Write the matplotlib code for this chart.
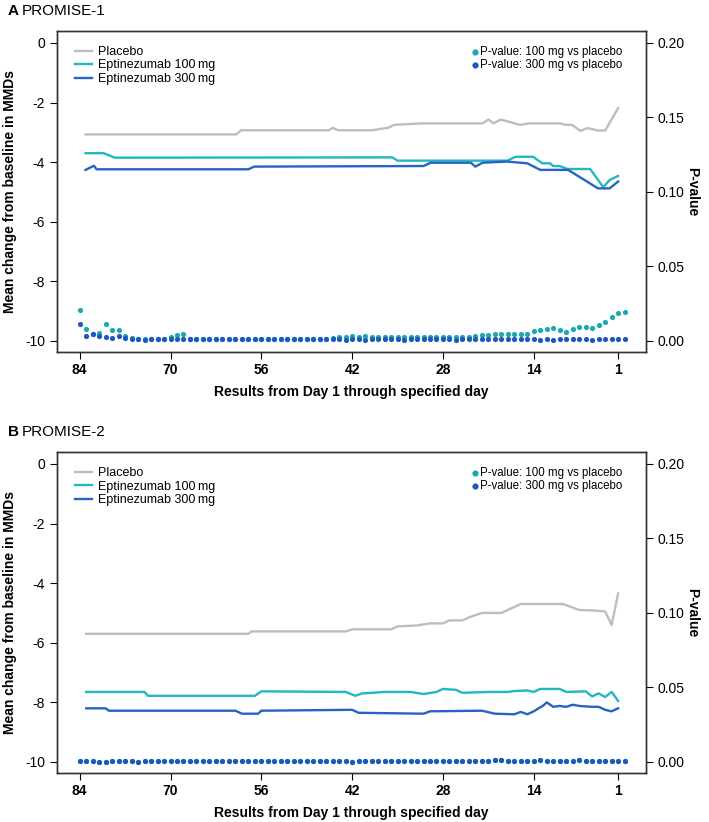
import numpy as np
import matplotlib.pyplot as plt

plt.rcParams['font.family'] = ['Liberation Sans', 'DejaVu Sans']
plt.rcParams['axes.unicode_minus'] = False

# x ticks (days, reversed axis)
day_ticks = [84, 70, 56, 42, 28, 14, 1]
dot_days = list(range(84, -1, -1))  # one dot per day

# ---- PROMISE-1 : mean change lines (breakpoints)
a_placebo_days = [83.1, 59.9, 59.1, 45.6, 45.0, 44.2, 38.8, 37.5, 36.5, 35.5, 31.4, 21.9, 21.0, 20.2,
                  19.1, 17.9, 16.1, 14.8, 9.9, 9.1, 8.1, 6.8, 5.8, 4.8, 4.2, 3.0, 1.0]
a_placebo_vals = [-3.07, -3.07, -2.93, -2.93, -2.85, -2.93, -2.93, -2.88, -2.85, -2.75, -2.70, -2.70, -2.57, -2.70,
                  -2.57, -2.64, -2.75, -2.70, -2.70, -2.75, -2.75, -2.95, -2.86, -2.90, -2.94, -2.94, -2.19]
a_100_days = [83.1, 80.3, 78.6, 35.8, 35.0, 18.1, 16.8, 14.1, 12.7, 11.5, 11.0, 10.0, 8.8, 5.3, 3.3, 2.3, 1.0]
a_100_vals = [-3.70, -3.70, -3.85, -3.84, -3.95, -3.95, -3.82, -3.82, -4.04, -4.04, -4.13, -4.13, -4.23, -4.23,
              -4.84, -4.60, -4.46]
a_300_days = [83.1, 81.8, 81.4, 58.0, 57.1, 31.0, 29.9, 23.7, 23.0, 21.9, 18.1, 15.0, 13.0, 8.7, 4.1, 2.3, 1.0]
a_300_vals = [-4.26, -4.12, -4.24, -4.24, -4.15, -4.13, -4.02, -4.02, -4.15, -4.02, -3.98, -4.04, -4.26, -4.26,
              -4.88, -4.88, -4.65]

# ---- PROMISE-1 : p-values (days 84 -> 0)
a_p100 = [0.021, 0.008, 0.005, 0.0056, 0.0112, 0.0074, 0.0074, 0.0034, 0.002, 0.0012, 0.001, 0.001,
          0.0012, 0.0015, 0.003, 0.004, 0.0045, 0.0015,
          0.001, 0.001, 0.001, 0.001, 0.001, 0.001, 0.001, 0.001, 0.001, 0.001,
          0.001, 0.001, 0.001, 0.001, 0.001, 0.001, 0.001, 0.001, 0.001, 0.001,
          0.0015, 0.0022, 0.0025, 0.0028, 0.0034, 0.003, 0.0032, 0.0025, 0.0025, 0.003,
          0.0028, 0.0025, 0.0025, 0.0028, 0.0025, 0.0025, 0.0028, 0.003, 0.0025, 0.0028,
          0.003, 0.003, 0.003, 0.0035, 0.004, 0.0042, 0.0045, 0.0047, 0.0047, 0.0047,
          0.0047, 0.0047, 0.0067, 0.0074, 0.0078, 0.0085, 0.0074, 0.0063, 0.0083, 0.0092,
          0.0096, 0.009, 0.0107, 0.013, 0.0163, 0.0186, 0.0193]
a_p300 = [0.0112, 0.0034, 0.0047, 0.0034, 0.0025, 0.002, 0.0034, 0.002, 0.0015, 0.001, 0.0008, 0.0012,
          0.0012, 0.001, 0.0012, 0.0015, 0.0015, 0.001,
          0.001, 0.001, 0.001, 0.001, 0.001, 0.001, 0.001, 0.001, 0.001, 0.001,
          0.001, 0.001, 0.001, 0.001, 0.001, 0.001, 0.001, 0.001, 0.001, 0.001,
          0.001, 0.0012, 0.0012, 0.0008, 0.0012, 0.001, 0.0008, 0.001, 0.001, 0.0012,
          0.001, 0.001, 0.0008, 0.001, 0.001, 0.0012, 0.001, 0.001, 0.0012, 0.001,
          0.0008, 0.001, 0.001, 0.001, 0.001, 0.0012, 0.001, 0.001, 0.0015, 0.0012,
          0.0012, 0.001, 0.001, 0.0008, 0.0012, 0.0008, 0.001, 0.001, 0.001, 0.001,
          0.0012, 0.0008, 0.001, 0.001, 0.001, 0.001, 0.001]

# ---- PROMISE-2 : mean change lines
b_placebo_days = [83, 58, 57.5, 43, 42, 36, 35, 32, 30, 28, 27, 25, 24, 22, 19, 16, 9.5, 7, 4.5, 3, 2, 1]
b_placebo_vals = [-5.70, -5.70, -5.62, -5.62, -5.55, -5.55, -5.45, -5.42, -5.35, -5.35, -5.25, -5.25, -5.15,
                  -5.00, -5.00, -4.70, -4.70, -4.90, -4.92, -4.95, -5.40, -4.35]
b_100_days = [83, 74, 73.5, 57, 56, 43, 41.5, 40.5, 39, 37, 33, 31, 29, 28, 26, 25, 21, 18, 17, 15, 14, 13,
              10, 9, 6, 5, 4, 3, 2, 1]
b_100_vals = [-7.65, -7.65, -7.78, -7.78, -7.63, -7.65, -7.78, -7.70, -7.68, -7.65, -7.65, -7.72, -7.65, -7.55,
              -7.58, -7.68, -7.65, -7.65, -7.62, -7.60, -7.65, -7.55, -7.55, -7.65, -7.63, -7.80, -7.70, -7.82,
              -7.65, -7.95]
b_300_days = [83, 80, 79.5, 60, 59, 56.5, 56, 42, 41, 31, 30, 22, 20, 17, 16, 15, 14, 12.5, 12, 11, 10, 9, 8,
              7, 5, 4, 3, 2, 1]
b_300_vals = [-8.20, -8.20, -8.28, -8.28, -8.38, -8.38, -8.28, -8.25, -8.35, -8.38, -8.30, -8.28, -8.38, -8.40,
              -8.32, -8.40, -8.30, -8.10, -8.00, -8.15, -8.12, -8.15, -8.08, -8.12, -8.15, -8.15, -8.25, -8.30,
              -8.20]

# ---- PROMISE-2 : p-values (days 84 -> 0), all near zero
b_p100 = [0.0008, 0.0008, 0.0008, 0.0, 0.0, 0.0004, 0.0008, 0.0008, 0.0008, 0.0, 0.0008, 0.0008,
          0.0008, 0.0008, 0.0008, 0.0008, 0.0008, 0.0008, 0.0008, 0.0008, 0.0008, 0.0008, 0.0008, 0.0008,
          0.0008, 0.0008, 0.0008, 0.0008, 0.0008, 0.0008, 0.0008, 0.0008, 0.0008, 0.0008, 0.0008, 0.0008,
          0.0008, 0.0008, 0.0008, 0.0008, 0.0008, 0.0008, 0.0, 0.0004, 0.0008, 0.0008, 0.0008, 0.0008,
          0.0008, 0.0008, 0.0004, 0.0008, 0.0008, 0.0008, 0.0008, 0.0008, 0.0004, 0.0004, 0.0004, 0.0004,
          0.0004, 0.0008, 0.0008, 0.0008, 0.0012, 0.0012, 0.0008, 0.0004, 0.0004, 0.0008, 0.0008, 0.0012,
          0.0004, 0.0004, 0.0004, 0.0008, 0.0004, 0.0012, 0.0004, 0.0004, 0.0008, 0.0008, 0.0008, 0.0008,
          0.0008]
b_p300 = [0.0008, 0.0008, 0.0008, 0.0, 0.0, 0.0004, 0.0008, 0.0008, 0.0008, 0.0, 0.0008, 0.0008,
          0.0008, 0.0008, 0.0008, 0.0008, 0.0008, 0.0008, 0.0008, 0.0008, 0.0008, 0.0008, 0.0008, 0.0008,
          0.0008, 0.0008, 0.0008, 0.0008, 0.0008, 0.0008, 0.0008, 0.0008, 0.0008, 0.0008, 0.0008, 0.0008,
          0.0008, 0.0008, 0.0008, 0.0008, 0.0008, 0.0008, 0.0, 0.0004, 0.0008, 0.0008, 0.0008, 0.0008,
          0.0008, 0.0008, 0.0004, 0.0008, 0.0008, 0.0008, 0.0008, 0.0008, 0.0004, 0.0004, 0.0004, 0.0004,
          0.0004, 0.0008, 0.0008, 0.0008, 0.0012, 0.0012, 0.0008, 0.0004, 0.0004, 0.0008, 0.0008, 0.0012,
          0.0004, 0.0004, 0.0004, 0.0008, 0.0004, 0.0012, 0.0004, 0.0004, 0.0008, 0.0008, 0.0008, 0.0008,
          0.0008]

c_placebo = '#bdbdbd'
c_100 = '#22b8c0'
c_300 = '#2563c4'
c_dot100 = '#1aa9b0'
c_dot300 = '#1e58bd'


def draw_panel(ax, lines, p100, p300):
    (pd, pv), (d1, v1), (d3, v3) = lines
    ax.plot(pd, pv, color=c_placebo, lw=1.7, label='Placebo')
    ax.plot(d1, v1, color=c_100, lw=1.7, label='Eptinezumab 100\u2009mg')
    ax.plot(d3, v3, color=c_300, lw=1.7, label='Eptinezumab 300\u2009mg')
    ax.set_xlim(87.5, -3.3)
    ax.set_ylim(-10.37, 0.40)
    ax.set_yticks([0, -2, -4, -6, -8, -10])
    ax.set_xticks(day_ticks)
    ax.tick_params(direction='out', length=5, labelsize=10)
    ax.tick_params(axis='x', labelsize=10, pad=3)
    for lbl in ax.get_xticklabels():
        lbl.set_fontweight('bold')
    ax.set_ylabel('Mean change from baseline in MMDs', fontsize=10, fontweight='bold', labelpad=6)
    ax.set_xlabel('Results from Day 1 through specified day', fontsize=10, fontweight='bold', labelpad=6)
    ax.legend(loc='upper left', frameon=False, fontsize=9, handlelength=1.4,
              handletextpad=0.45, labelspacing=0.12, borderaxespad=0.8,
              bbox_to_anchor=(0.005, 1.0))

    ax2 = ax.twinx()
    ax2.scatter(dot_days, p100, s=14, color=c_dot100, lw=0, label='P-value: 100 mg vs placebo', zorder=3)
    ax2.scatter(dot_days, p300, s=14, color=c_dot300, lw=0, label='P-value: 300 mg vs placebo', zorder=4)
    ax2.set_ylim(-0.0074, 0.208)
    ax2.set_yticks([0, 0.05, 0.10, 0.15, 0.20])
    ax2.set_yticklabels(['0.00', '0.05', '0.10', '0.15', '0.20'])
    ax2.tick_params(direction='out', length=5, labelsize=10)
    ax2.set_ylabel('P-value', fontsize=10, fontweight='bold', rotation=270, labelpad=10)
    ax2.legend(loc='upper right', frameon=False, fontsize=8.3, handlelength=0.6,
               handletextpad=0.15, labelspacing=0.12, borderaxespad=0.9, markerscale=1.2,
               bbox_to_anchor=(0.985, 1.0))
    for sp in list(ax.spines.values()) + list(ax2.spines.values()):
        sp.set_linewidth(1.0)
        sp.set_color('#333333')


fig = plt.figure(figsize=(7.09, 8.22), dpi=100)
axA = fig.add_axes([57 / 709, 1 - 352 / 822, 589 / 709, 321 / 822])
axB = fig.add_axes([57 / 709, 1 - 773 / 822, 589 / 709, 321 / 822])

draw_panel(axA, [(a_placebo_days, a_placebo_vals), (a_100_days, a_100_vals), (a_300_days, a_300_vals)],
           a_p100, a_p300)
draw_panel(axB, [(b_placebo_days, b_placebo_vals), (b_100_days, b_100_vals), (b_300_days, b_300_vals)],
           b_p100, b_p300)

fig.text(8 / 709, 1 - 11 / 822, 'A', fontsize=11, fontweight='bold', va='center')
fig.text(22 / 709, 1 - 11 / 822, 'PROMISE-1', fontsize=11, va='center')
fig.text(8 / 709, 1 - 432 / 822, 'B', fontsize=11, fontweight='bold', va='center')
fig.text(22 / 709, 1 - 432 / 822, 'PROMISE-2', fontsize=11, va='center')

fig.savefig('out.png', dpi=100)
